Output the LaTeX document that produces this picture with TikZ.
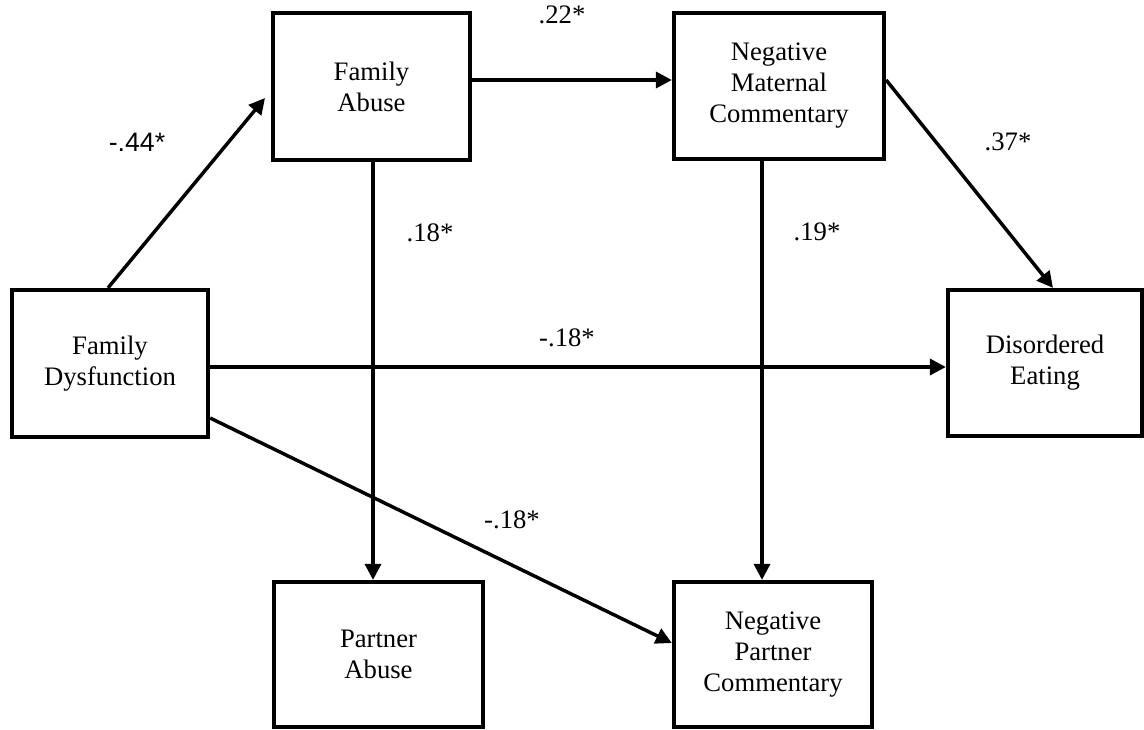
\documentclass[tikz,border=0pt]{standalone}
\usepackage{fontspec}
\setmainfont{Liberation Serif}
\newfontfamily\arialfont{Liberation Sans}
\usetikzlibrary{arrows.meta, positioning}

\begin{document}
\begin{tikzpicture}[
    x=0.75pt, y=-0.75pt,
    every node/.append style = {font=\fontsize{20}{23.25}\selectfont},
    box/.style = {draw, line width=3.2pt, align=center, inner sep=0pt},
    link/.style = {line width=2.6pt, -{Triangle[length=12pt, width=12pt]}}
  ]
  \useasboundingbox (0,0) rectangle (1144,729);

  % the six boxes
  \node[box, minimum width=147pt, minimum height=110.25pt] (fd) at (110,363.5)
    {Family\\Dysfunction};
  \node[box, minimum width=147.75pt, minimum height=110.25pt] (fa) at (371.5,86.5)
    {Family\\Abuse};
  \node[box, minimum width=157.5pt, minimum height=109.5pt] (nmc) at (779,86)
    {Negative\\Maternal\\Commentary};
  \node[box, minimum width=145.5pt, minimum height=109.5pt] (de) at (1045,363)
    {Disordered\\Eating};
  \node[box, minimum width=156.75pt, minimum height=108.75pt] (pa) at (378.5,654.5)
    {Partner\\Abuse};
  \node[box, minimum width=148.5pt, minimum height=108.75pt] (npc) at (773,654.5)
    {Negative\\Partner\\Commentary};

  % paths
  \draw[link] (fd.north -| 108,0) -- (265,98);
  \draw[link] (fa.east |- 0,80) -- (nmc.west |- 0,80);
  \draw[link] (nmc.east |- 0,80) -- (de.north -| 1053,0);
  \draw[link] (fd.east |- 0,367) -- (de.west |- 0,367);
  \draw[link] (fa.south -| 373,0) -- (pa.north -| 373,0);
  \draw[link] (nmc.south -| 762,0) -- (npc.north -| 762,0);
  \draw[link] (fd.east |- 0,418) -- (npc.west |- 0,643);

  % coefficients
  \node[font=\arialfont\fontsize{20}{24}\selectfont] (c44) at (137,142) {-.44*};
  \node (c22) at (562,15) {.22*};
  \node (c37) at (1008,142) {.37*};
  \node (c18a) at (430,233) {.18*};
  \node (c19) at (817,232) {.19*};
  \node (c18b) at (567,338) {-.18*};
  \node (c18c) at (512,520) {-.18*};
\end{tikzpicture}
\end{document}
